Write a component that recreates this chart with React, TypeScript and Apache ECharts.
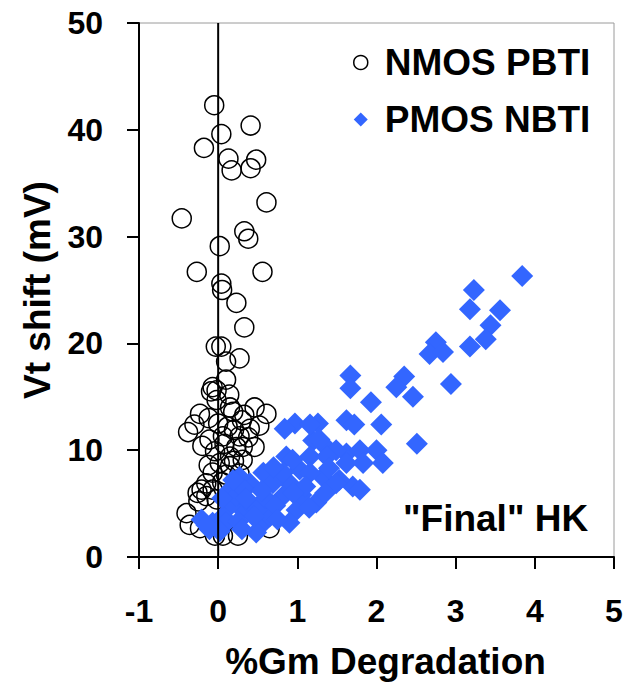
import React, { useEffect, useRef } from "react";
import * as echarts from "echarts";

const seriesNames = ["NMOS PBTI", "PMOS NBTI"];
const xTicks = { min: -1, max: 5, interval: 1 };
const yTicks = { min: 0, max: 50, interval: 10 };
const zeroLine = [[0, 0], [0, 50]];
const annotation = '"Final" HK';
const xAxisTitle = "%Gm Degradation";
const yAxisTitle = "Vt shift (mV)";

const nmosPoints = [
  [-0.05, 42.3], [0.41, 40.4], [0.04, 39.6], [-0.18, 38.3], [0.13, 37.3], [0.48, 37.2],
  [0.17, 36.2], [0.41, 36.4], [0.61, 33.2], [-0.46, 31.7], [0.33, 30.5], [0.38, 29.8],
  [0.02, 29.1], [-0.27, 26.7], [0.56, 26.7], [0.04, 25.6], [0.05, 25.0], [0.23, 23.8],
  [0.33, 21.5], [-0.03, 19.7], [0.04, 19.7], [0.27, 18.6], [0.1, 18.3], [0.1, 16.6],
  [-0.07, 15.9], [-0.02, 15.6], [0.14, 15.2], [-0.09, 15.5], [-0.23, 13.4], [0.46, 14.0],
  [0.61, 13.4], [-0.38, 11.7], [-0.02, 14.7], [0.19, 13.6], [0.33, 13.3], [0.46, 10.3],
  [-0.11, 11.0], [0.06, 11.3], [0.23, 10.3], [-0.04, 9.9], [0.15, 9.4], [0.31, 9.1],
  [0.02, 8.8], [-0.07, 7.9], [0.1, 7.7], [-0.15, 6.9], [-0.21, 6.3], [-0.07, 6.3],
  [-0.15, 5.7], [-0.26, 6.0], [-0.02, 5.4], [-0.4, 4.1], [-0.36, 3.0], [-0.23, 2.7],
  [-0.04, 2.0], [0.06, 2.0], [0.25, 2.0], [0.65, 2.7], [0.15, 8.5], [0.31, 10.3],
  [0.27, 11.3], [0.0, 12.5], [0.12, 12.2], [0.2, 11.9], [-0.25, 5.2], [0.27, 7.8],
  [0.3, 12.8], [0.4, 12.0], [0.15, 14.0], [0.52, 12.3], [-0.12, 13.0], [-0.2, 10.4],
  [0.08, 10.6], [0.38, 11.2], [-0.3, 12.4], [0.2, 9.0], [-0.12, 8.6], [0.05, 7.0],
];

const pmosPoints = [
  [3.84, 26.3], [3.23, 25.0], [3.18, 23.2], [3.56, 23.1], [3.44, 21.7], [3.38, 20.4],
  [3.18, 19.7], [2.75, 20.1], [2.67, 19.0], [2.84, 19.2], [2.94, 16.2], [2.35, 16.9],
  [2.25, 15.9], [2.46, 15.0], [1.67, 17.0], [1.67, 15.8], [1.93, 14.5], [1.62, 12.8],
  [1.72, 12.4], [2.06, 12.4], [2.51, 10.6], [1.26, 12.5], [0.97, 12.5], [0.84, 12.0],
  [1.2, 10.9], [1.32, 10.6], [1.16, 9.4], [1.62, 9.7], [1.79, 10.0], [2.0, 10.0],
  [2.08, 8.8], [1.7, 6.6], [1.03, 8.2], [0.86, 9.4], [0.9, 6.9], [1.32, 7.5],
  [1.53, 7.2], [1.16, 12.4], [1.28, 11.0], [0.94, 9.1], [1.16, 7.9], [0.57, 7.9],
  [0.69, 6.9], [0.4, 6.9], [0.27, 7.5], [0.15, 6.3], [0.82, 5.7], [0.99, 4.4],
  [1.24, 5.1], [1.49, 6.9], [1.62, 8.8], [1.83, 8.8], [1.79, 6.3], [0.9, 3.2],
  [0.57, 3.2], [0.48, 2.3], [0.65, 3.8], [0.31, 4.4], [0.15, 4.8], [0.06, 3.8],
  [-0.07, 3.2], [-0.21, 3.5], [-0.11, 2.6], [0.23, 5.7], [0.33, 6.3], [0.19, 7.2],
  [1.49, 10.0], [1.37, 9.4], [0.82, 7.9], [0.4, 5.0], [0.5, 4.5], [0.6, 5.5],
  [0.72, 4.8], [0.75, 3.5], [0.45, 3.8], [0.35, 5.5], [0.55, 6.2], [1.05, 5.8],
  [1.1, 6.6], [0.95, 6.0], [1.4, 8.3], [0.7, 8.4], [0.05, 5.5], [0.1, 3.2],
  [-0.15, 3.0], [0.02, 2.4], [0.25, 3.3], [1.15, 4.6], [1.35, 6.0], [0.3, 2.6],
];

const FONT = "'Liberation Sans', Arial, sans-serif";
const BLUE = "#3366ff";

export default function App() {
  const ref = useRef<HTMLDivElement>(null);
  useEffect(() => {
    if (!ref.current) return;
    const chart = echarts.init(ref.current, undefined, { renderer: "svg" });
    chart.setOption({
      animation: false,
      backgroundColor: "#ffffff",
      textStyle: { fontFamily: FONT },
      grid: {
        left: 139,
        right: 12,
        top: 23,
        bottom: 125,
        show: true,
        borderColor: "#9a9a9a",
        borderWidth: 1,
        containLabel: false,
      },
      legend: {
        orient: "vertical",
        left: 348,
        top: 39,
        itemWidth: 14,
        itemHeight: 14,
        itemGap: 20,
        selectedMode: false,
        textStyle: {
          fontFamily: FONT,
          fontSize: 37,
          fontWeight: "bold",
          color: "#000",
          padding: [0, 0, 0, 12],
        },
        data: [
          {
            name: seriesNames[0],
            icon: "circle",
            itemStyle: { color: "#ffffff", borderColor: "#000", borderWidth: 1.5, opacity: 1 },
          },
          { name: seriesNames[1], icon: "diamond", itemStyle: { color: BLUE, opacity: 1 } },
        ],
      },
      xAxis: {
        type: "value",
        min: xTicks.min,
        max: xTicks.max,
        interval: xTicks.interval,
        name: xAxisTitle,
        nameLocation: "middle",
        nameGap: 86,
        nameTextStyle: {
          fontFamily: FONT,
          fontSize: 37,
          fontWeight: "bold",
          color: "#000",
          padding: [0, 0, 0, 18],
        },
        axisLine: { show: true, onZero: false, lineStyle: { color: "#000", width: 2 } },
        axisTick: { show: true, inside: false, length: 12, lineStyle: { color: "#000", width: 2 } },
        axisLabel: {
          margin: 38,
          fontFamily: FONT,
          fontSize: 32,
          fontWeight: "bold",
          color: "#000",
        },
        splitLine: { show: false },
      },
      yAxis: {
        type: "value",
        min: yTicks.min,
        max: yTicks.max,
        interval: yTicks.interval,
        name: yAxisTitle,
        nameLocation: "middle",
        nameGap: 83,
        nameTextStyle: {
          fontFamily: FONT,
          fontSize: 37,
          fontWeight: "bold",
          color: "#000",
        },
        axisLine: { show: true, onZero: false, lineStyle: { color: "#000", width: 2 } },
        axisTick: { show: true, inside: false, length: 12, lineStyle: { color: "#000", width: 2 } },
        axisLabel: {
          margin: 36,
          fontFamily: FONT,
          fontSize: 32,
          fontWeight: "bold",
          color: "#000",
        },
        splitLine: { show: false },
      },
      graphic: [
        {
          type: "text",
          left: 403,
          top: 500,
          style: {
            text: annotation,
            fontFamily: FONT,
            fontSize: 37,
            fontWeight: "bold",
            fill: "#000",
          },
        },
      ],
      series: [
        {
          name: seriesNames[0],
          type: "scatter",
          symbol: "circle",
          symbolSize: 19,
          itemStyle: { color: "rgba(255,255,255,0)", borderColor: "#000", borderWidth: 1.5, opacity: 1 },
          data: nmosPoints,
          z: 2,
        },
        {
          name: seriesNames[1],
          type: "scatter",
          symbol: "diamond",
          symbolSize: 22,
          itemStyle: { color: BLUE, opacity: 1 },
          data: pmosPoints,
          z: 3,
        },
        {
          name: "zero",
          type: "line",
          data: zeroLine,
          symbol: "none",
          lineStyle: { color: "#000", width: 2 },
          z: 4,
          silent: true,
        },
      ],
    });
    return () => chart.dispose();
  }, []);
  return (
    <div
      ref={ref}
      style={{ position: "fixed", left: 0, top: 0, width: 626, height: 685 }}
    />
  );
}
